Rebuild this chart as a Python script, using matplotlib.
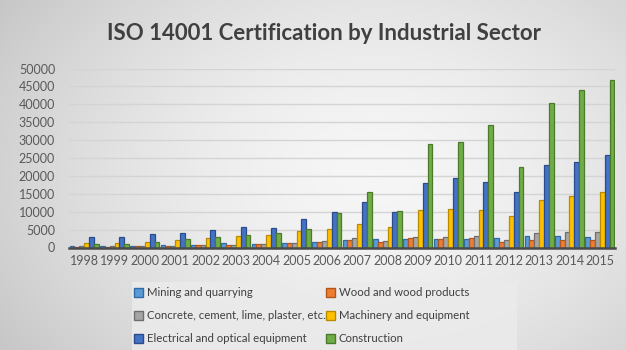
import numpy as np
import matplotlib
matplotlib.use("Agg")
import matplotlib.pyplot as plt
from matplotlib.patches import Patch, Rectangle

plt.rcParams['font.family'] = ['Lato', 'DejaVu Sans']

years = [str(y) for y in range(1998, 2016)]
mining = [300, 300, 400, 600, 800, 1300, 1000, 1300, 1600, 2000, 2400, 2500, 2300, 2400, 2600, 3200, 3200, 3000]
wood = [200, 200, 300, 400, 600, 800, 900, 1200, 1400, 2100, 1400, 2600, 2400, 2600, 1500, 2100, 2100, 2100]
concrete = [300, 300, 400, 500, 700, 800, 1000, 1200, 1700, 2600, 1800, 3000, 3000, 3300, 2200, 4100, 4400, 4400]
machinery = [1200, 1200, 1600, 2100, 2700, 3200, 3400, 4500, 5100, 6600, 5600, 10400, 10700, 10500, 8900, 13300, 14400, 15600]
electrical = [2800, 2800, 3700, 4100, 4900, 5600, 5500, 7900, 10000, 12800, 9800, 17900, 19300, 18400, 15400, 23000, 24000, 25800]
construction = [1000, 1100, 1600, 2300, 2800, 3500, 4000, 5200, 9600, 15600, 10200, 28900, 29600, 34200, 22600, 40400, 44000, 46800]

series = [
    ("Mining and quarrying", mining, "#5B9BD5", "#2E6AA8"),
    ("Wood and wood products", wood, "#ED7D31", "#B4561A"),
    ("Concrete, cement, lime, plaster, etc.", concrete, "#A5A5A5", "#6E6E6E"),
    ("Machinery and equipment", machinery, "#FFC000", "#B88A00"),
    ("Electrical and optical equipment", electrical, "#4472C4", "#2B4C8C"),
    ("Construction", construction, "#70AD47", "#4A7A2C"),
]

W, H = 626, 350
fig = plt.figure(figsize=(W / 100, H / 100), dpi=100)

# background gradient
bg = fig.add_axes([0, 0, 1, 1], zorder=-10)
yy, xx = np.mgrid[0:1:200j, 0:1:350j]
r = np.sqrt(((xx - 0.6) / 0.75) ** 2 + ((yy - 0.5) / 0.95) ** 2)
v = 0.965 - 0.2 * np.clip(r, 0, 1.2) ** 1.6
img = np.dstack([v, v, v])
bg.imshow(img, extent=[0, 1, 0, 1], aspect="auto", origin="lower")
bg.set_axis_off()

ax = fig.add_axes([69 / W, 1 - 247.5 / H, 546 / W, 179 / H])
ax.set_facecolor("none")
x = np.arange(len(years))
n = len(series)
total = 0.96
bw = total / n
for i, (name, vals, fc, ec) in enumerate(series):
    off = -total / 2 + bw * (i + 0.5)
    ax.bar(x + off, vals, width=bw, color=fc, edgecolor=ec, linewidth=0.9, zorder=3)

ax.set_xlim(-0.5, len(years) - 0.5)
ax.set_ylim(0, 50000)
ax.set_yticks(np.arange(0, 50001, 5000))
ax.set_xticks(x)
ax.set_xticklabels(years)
ax.tick_params(axis="both", length=0, labelsize=9, colors="#595959")
ax.tick_params(axis="x", pad=5.5)
ax.tick_params(axis="y", pad=10)
ax.grid(axis="y", color="#d4d4d4", linewidth=1.0, zorder=0)
for s in ["top", "right", "left"]:
    ax.spines[s].set_visible(False)
ax.spines["bottom"].set_color("#4a4a4a")
ax.spines["bottom"].set_linewidth(1.8)
ax.spines["bottom"].set_zorder(4)

fig.text(324 / W, 1 - 34 / H, "ISO 14001 Certification by Industrial Sector",
         ha="center", va="center", fontsize=16, fontweight="bold", color="#404040")

# legend box
fig.patches.append(Rectangle((132 / W, 0), (517 - 132) / W, (350 - 282) / H,
                             transform=fig.transFigure, facecolor="#ebebeb",
                             edgecolor="none", alpha=0.85, zorder=-5))

order = [0, 2, 4, 1, 3, 5]
handles = [Patch(facecolor=series[k][2], edgecolor=series[k][3], label=series[k][0]) for k in order]
leg = fig.legend(handles=handles, ncol=2, loc="upper left",
                 bbox_to_anchor=(134 / W, 1 - 287.5 / H),
                 fontsize=8.2, frameon=False, handlelength=0.75, handleheight=0.75,
                 handletextpad=0.35, columnspacing=0.1, labelspacing=1.05,
                 borderpad=0, borderaxespad=0)
for t in leg.get_texts():
    t.set_color("#404040")

fig.savefig("out.png", dpi=100)
